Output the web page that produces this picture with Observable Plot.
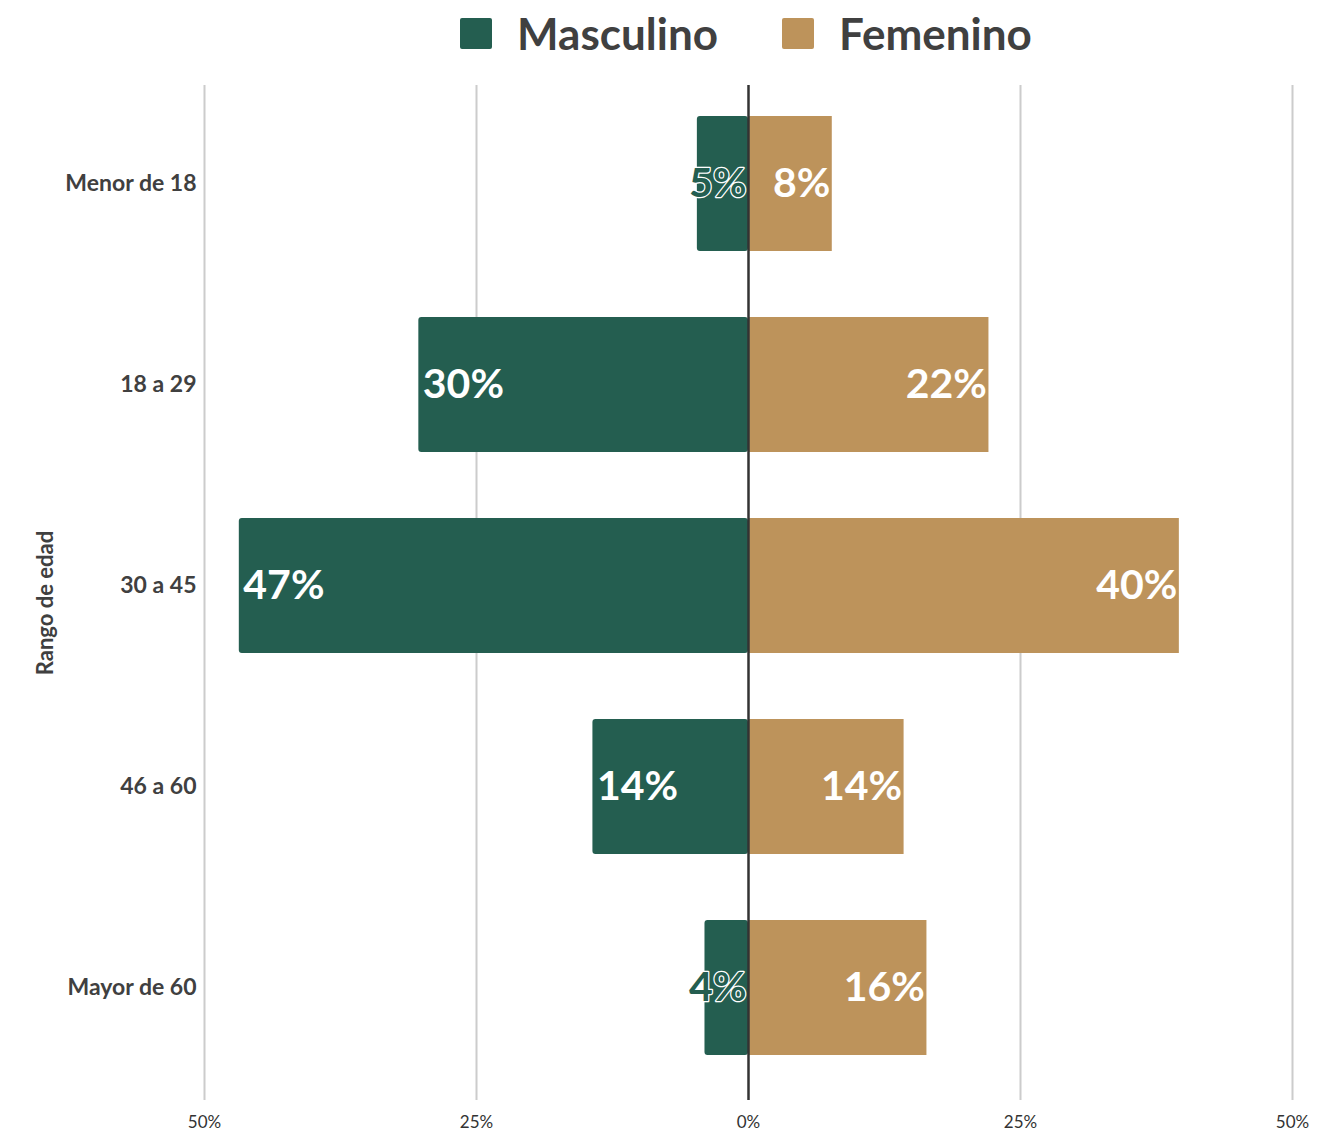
<!DOCTYPE html>
<html>
<head>
<meta charset="utf-8">
<script src="https://cdn.jsdelivr.net/npm/d3@7"></script>
<script src="https://cdn.jsdelivr.net/npm/@observablehq/plot@0.6"></script>
<style>
  body { margin: 0; background: #fff; font-family: Lato, "Open Sans", sans-serif; }
  #legend { height: 66px; display: flex; justify-content: center; align-items: center;
            padding-left: 159px; box-sizing: border-box; width: 1333px; }
  .item { display: flex; align-items: center; margin: 0 32px; }
  .sw { width: 32px; height: 31px; border-radius: 2px; margin-right: 25px; }
  .lab { font-size: 44px; font-weight: 700; color: #404040; }
  #chart svg { display: block; }
</style>
</head>
<body>
<div id="legend"></div>
<div id="chart"></div>
<script>
// Age groups, top to bottom
const grupos = ["Menor de 18", "18 a 29", "30 a 45", "46 a 60", "Mayor de 60"];
// Share of each sex in every age group (%)
const masculino = [4.7, 30.3, 46.8, 14.3, 4.0];
const femenino = [7.7, 22.1, 39.6, 14.3, 16.4];
// Series names and colours
const series = ["Masculino", "Femenino"];
const colores = ["#245E50", "#BD935B"];
// Axis ticks
const ticks = [-50, -25, 0, 25, 50];

const rowsM = grupos.map((g, i) => ({g, v: masculino[i]}));
const rowsF = grupos.map((g, i) => ({g, v: femenino[i]}));
const pct = v => `${Math.round(v)}%`;
const cortos = rowsM.filter(d => d.v < 6);

// Legend
const legend = document.getElementById("legend");
series.forEach((s, i) => {
  const it = document.createElement("div");
  it.className = "item";
  it.innerHTML = `<div class="sw" style="background:${colores[i]}"></div><span class="lab">${s}</span>`;
  legend.appendChild(it);
});

const labelFont = {fontSize: 41, fontWeight: 700};

const chart = Plot.plot({
  width: 1333,
  height: 1070,
  marginLeft: 204,
  marginRight: 41,
  marginTop: 19,
  marginBottom: 36,
  style: {fontFamily: "Lato, 'Open Sans', sans-serif", color: "#404040", background: "#fff"},
  x: {domain: [-50, 50]},
  y: {domain: grupos, paddingInner: 0.33, paddingOuter: 0.155, insetTop: 0, insetBottom: 14},
  marks: [
    Plot.gridX(ticks.filter(t => t !== 0), {stroke: "#cccccc", strokeOpacity: 1, strokeWidth: 2}),
    Plot.barX(rowsM, {x1: 0, x2: d => -d.v, y: "g", fill: colores[0], rx: 3}),
    Plot.barX(rowsF, {x1: 0, x2: "v", y: "g", fill: colores[1]}),
    Plot.ruleX([0], {stroke: "#333", strokeWidth: 2.5}),
    // Masculino labels inside the bar start
    Plot.text(rowsM.filter(d => d.v >= 6), {
      x: d => -d.v, y: "g", text: d => pct(d.v), textAnchor: "start", dx: 4,
      fill: "white", ...labelFont
    }),
    // Short Masculino bars: green label with a white halo next to the axis
    Plot.text(cortos, {
      x: 0, y: "g", text: d => pct(d.v), textAnchor: "end", dx: -2,
      fill: "white", stroke: "white", strokeWidth: 2.5, strokeLinejoin: "round", ...labelFont
    }),
    Plot.text(cortos, {
      x: 0, y: "g", text: d => pct(d.v), textAnchor: "end", dx: -2,
      fill: colores[0], ...labelFont
    }),
    // Femenino labels at the end of each bar
    Plot.text(rowsF, {
      x: "v", y: "g", text: d => pct(d.v), textAnchor: "end", dx: -2,
      fill: "white", ...labelFont
    }),
    Plot.axisX({ticks, tickSize: 0, tickPadding: 15, fontSize: 17, label: null,
      tickFormat: d => `${Math.abs(d)}%`, color: "#333"}),
    Plot.axisY({tickSize: 0, tickPadding: 8, fontSize: 23, fontWeight: 700, label: null, color: "#404040"}),
    Plot.text(["Rango de edad"], {frameAnchor: "left", rotate: -90, dx: -159, dy: 10,
      textAnchor: "middle", fontSize: 22, fontWeight: 700, fill: "#404040"})
  ]
});
document.getElementById("chart").appendChild(chart);
</script>
</body>
</html>
